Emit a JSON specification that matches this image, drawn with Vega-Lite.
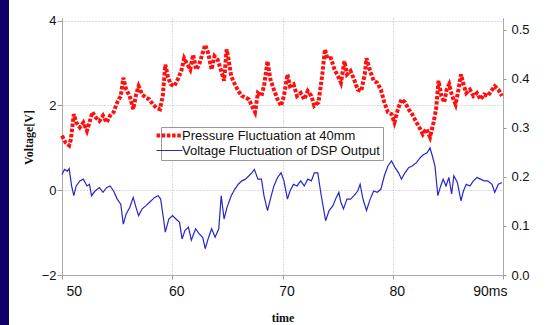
{
  "$schema": "https://vega.github.io/schema/vega-lite/v6.json",
  "width": 441,
  "height": 257,
  "autosize": {"type": "none"},
  "padding": {"left": 62, "top": 18, "right": 50, "bottom": 50},
  "background": "#0e0068",
  "config": {
    "view": {"fill": "white", "stroke": "white", "strokeWidth": 106},
    "axis": {
      "labelFont": "Liberation Sans",
      "labelColor": "#111111",
      "titleFont": "Liberation Serif",
      "titleFontWeight": "bold",
      "titleColor": "#111111",
      "gridColor": "#b8b8b8",
      "gridDash": [1, 2],
      "gridWidth": 1,
      "domainColor": "#aaaaaa",
      "tickColor": "#999999"
    },
    "legend": {
      "orient": "none",
      "legendX": 99,
      "legendY": 109,
      "fillColor": "white",
      "strokeColor": "#999999",
      "padding": 2,
      "labelFont": "Liberation Sans",
      "labelFontSize": 13,
      "labelColor": "#111111",
      "labelLimit": 400,
      "symbolType": "stroke",
      "symbolSize": 676,
      "rowPadding": -13,
      "labelOffset": 6
    }
  },
  "datasets": {
    "pressure": [
      {"t": 50.00, "p": 0.284}, {"t": 50.32, "p": 0.270}, {"t": 50.65, "p": 0.264}, {"t": 50.81, "p": 0.277},
      {"t": 51.07, "p": 0.328}, {"t": 51.29, "p": 0.311}, {"t": 51.62, "p": 0.301}, {"t": 51.94, "p": 0.311},
      {"t": 52.26, "p": 0.294}, {"t": 52.49, "p": 0.311}, {"t": 52.75, "p": 0.332}, {"t": 53.07, "p": 0.321},
      {"t": 53.39, "p": 0.314}, {"t": 53.72, "p": 0.325}, {"t": 54.04, "p": 0.311}, {"t": 54.36, "p": 0.325},
      {"t": 54.68, "p": 0.332}, {"t": 55.01, "p": 0.352}, {"t": 55.33, "p": 0.365}, {"t": 55.56, "p": 0.402},
      {"t": 55.82, "p": 0.378}, {"t": 56.14, "p": 0.365}, {"t": 56.46, "p": 0.338}, {"t": 56.72, "p": 0.368},
      {"t": 56.95, "p": 0.385}, {"t": 57.27, "p": 0.368}, {"t": 57.59, "p": 0.362}, {"t": 57.92, "p": 0.358},
      {"t": 58.24, "p": 0.348}, {"t": 58.56, "p": 0.341}, {"t": 58.89, "p": 0.338}, {"t": 59.14, "p": 0.365},
      {"t": 59.37, "p": 0.429}, {"t": 59.60, "p": 0.405}, {"t": 59.85, "p": 0.389}, {"t": 60.18, "p": 0.385},
      {"t": 60.50, "p": 0.399}, {"t": 60.82, "p": 0.416}, {"t": 61.08, "p": 0.442}, {"t": 61.31, "p": 0.432},
      {"t": 61.63, "p": 0.419}, {"t": 61.89, "p": 0.449}, {"t": 62.18, "p": 0.419}, {"t": 62.44, "p": 0.429},
      {"t": 62.76, "p": 0.453}, {"t": 62.99, "p": 0.469}, {"t": 63.25, "p": 0.453}, {"t": 63.57, "p": 0.419},
      {"t": 63.83, "p": 0.446}, {"t": 64.12, "p": 0.439}, {"t": 64.44, "p": 0.416}, {"t": 64.70, "p": 0.396},
      {"t": 64.93, "p": 0.460}, {"t": 65.09, "p": 0.442}, {"t": 65.35, "p": 0.405}, {"t": 65.67, "p": 0.389},
      {"t": 65.99, "p": 0.375}, {"t": 66.32, "p": 0.365}, {"t": 66.64, "p": 0.362}, {"t": 66.96, "p": 0.358},
      {"t": 67.22, "p": 0.345}, {"t": 67.51, "p": 0.332}, {"t": 67.77, "p": 0.371}, {"t": 68.09, "p": 0.365},
      {"t": 68.32, "p": 0.385}, {"t": 68.64, "p": 0.436}, {"t": 68.90, "p": 0.399}, {"t": 69.22, "p": 0.378},
      {"t": 69.55, "p": 0.358}, {"t": 69.87, "p": 0.345}, {"t": 70.13, "p": 0.365}, {"t": 70.45, "p": 0.409},
      {"t": 70.68, "p": 0.385}, {"t": 71.00, "p": 0.389}, {"t": 71.32, "p": 0.365}, {"t": 71.65, "p": 0.371},
      {"t": 71.97, "p": 0.358}, {"t": 72.29, "p": 0.375}, {"t": 72.62, "p": 0.365}, {"t": 72.88, "p": 0.345},
      {"t": 73.26, "p": 0.352}, {"t": 73.59, "p": 0.405}, {"t": 73.85, "p": 0.460}, {"t": 74.07, "p": 0.442},
      {"t": 74.39, "p": 0.442}, {"t": 74.72, "p": 0.419}, {"t": 75.04, "p": 0.405}, {"t": 75.30, "p": 0.392},
      {"t": 75.62, "p": 0.436}, {"t": 75.85, "p": 0.409}, {"t": 76.17, "p": 0.416}, {"t": 76.49, "p": 0.399},
      {"t": 76.82, "p": 0.378}, {"t": 77.14, "p": 0.375}, {"t": 77.46, "p": 0.409}, {"t": 77.62, "p": 0.442},
      {"t": 77.95, "p": 0.416}, {"t": 78.27, "p": 0.396}, {"t": 78.59, "p": 0.392}, {"t": 78.92, "p": 0.378},
      {"t": 79.24, "p": 0.352}, {"t": 79.56, "p": 0.332}, {"t": 79.89, "p": 0.328}, {"t": 80.15, "p": 0.311},
      {"t": 80.47, "p": 0.338}, {"t": 80.79, "p": 0.358}, {"t": 81.11, "p": 0.352}, {"t": 81.44, "p": 0.338},
      {"t": 81.76, "p": 0.328}, {"t": 82.08, "p": 0.314}, {"t": 82.41, "p": 0.301}, {"t": 82.73, "p": 0.287},
      {"t": 83.05, "p": 0.298}, {"t": 83.38, "p": 0.281}, {"t": 83.70, "p": 0.311}, {"t": 83.93, "p": 0.338},
      {"t": 84.15, "p": 0.396}, {"t": 84.41, "p": 0.365}, {"t": 84.67, "p": 0.352}, {"t": 84.89, "p": 0.378},
      {"t": 85.12, "p": 0.389}, {"t": 85.38, "p": 0.365}, {"t": 85.70, "p": 0.348}, {"t": 85.96, "p": 0.378},
      {"t": 86.19, "p": 0.409}, {"t": 86.41, "p": 0.389}, {"t": 86.67, "p": 0.371}, {"t": 87.00, "p": 0.378},
      {"t": 87.32, "p": 0.365}, {"t": 87.64, "p": 0.371}, {"t": 87.96, "p": 0.358}, {"t": 88.29, "p": 0.368},
      {"t": 88.61, "p": 0.365}, {"t": 88.93, "p": 0.375}, {"t": 89.25, "p": 0.385}, {"t": 89.58, "p": 0.378},
      {"t": 89.90, "p": 0.365}
    ],
    "voltage": [
      {"t": 50.00, "v": 0.37}, {"t": 50.23, "v": 0.49}, {"t": 50.48, "v": 0.45}, {"t": 50.65, "v": 0.51},
      {"t": 50.87, "v": 0.10}, {"t": 51.07, "v": -0.13}, {"t": 51.29, "v": 0.10}, {"t": 51.62, "v": 0.22},
      {"t": 51.94, "v": 0.26}, {"t": 52.26, "v": 0.10}, {"t": 52.49, "v": 0.14}, {"t": 52.68, "v": -0.13},
      {"t": 53.00, "v": -0.02}, {"t": 53.39, "v": 0.06}, {"t": 53.72, "v": -0.05}, {"t": 54.04, "v": 0.06},
      {"t": 54.36, "v": 0.10}, {"t": 54.68, "v": -0.02}, {"t": 55.01, "v": -0.21}, {"t": 55.33, "v": -0.33},
      {"t": 55.56, "v": -0.80}, {"t": 55.82, "v": -0.56}, {"t": 56.14, "v": -0.41}, {"t": 56.46, "v": -0.17},
      {"t": 56.72, "v": -0.41}, {"t": 56.95, "v": -0.60}, {"t": 57.27, "v": -0.44}, {"t": 57.59, "v": -0.37},
      {"t": 57.92, "v": -0.29}, {"t": 58.40, "v": -0.17}, {"t": 58.72, "v": -0.13}, {"t": 58.95, "v": -0.21},
      {"t": 59.21, "v": -0.68}, {"t": 59.37, "v": -0.99}, {"t": 59.69, "v": -0.68}, {"t": 60.02, "v": -0.60},
      {"t": 60.34, "v": -0.68}, {"t": 60.66, "v": -0.76}, {"t": 60.89, "v": -1.15}, {"t": 61.15, "v": -0.95},
      {"t": 61.47, "v": -0.87}, {"t": 61.73, "v": -1.18}, {"t": 62.12, "v": -0.91}, {"t": 62.44, "v": -1.03},
      {"t": 62.76, "v": -1.11}, {"t": 62.99, "v": -1.38}, {"t": 63.25, "v": -1.15}, {"t": 63.57, "v": -0.91},
      {"t": 63.89, "v": -1.11}, {"t": 64.22, "v": -0.91}, {"t": 64.44, "v": -0.13}, {"t": 64.70, "v": -0.68},
      {"t": 64.96, "v": -0.41}, {"t": 65.35, "v": -0.13}, {"t": 65.67, "v": 0.02}, {"t": 65.99, "v": 0.14},
      {"t": 66.32, "v": 0.22}, {"t": 66.64, "v": 0.26}, {"t": 66.96, "v": 0.34}, {"t": 67.22, "v": 0.41},
      {"t": 67.45, "v": 0.49}, {"t": 67.77, "v": 0.26}, {"t": 68.09, "v": 0.26}, {"t": 68.32, "v": -0.13},
      {"t": 68.64, "v": -0.48}, {"t": 68.90, "v": -0.21}, {"t": 69.22, "v": 0.10}, {"t": 69.55, "v": 0.30},
      {"t": 69.87, "v": 0.41}, {"t": 70.13, "v": 0.22}, {"t": 70.45, "v": -0.21}, {"t": 70.68, "v": -0.02},
      {"t": 71.00, "v": 0.14}, {"t": 71.32, "v": 0.10}, {"t": 71.65, "v": 0.22}, {"t": 71.97, "v": 0.10},
      {"t": 72.29, "v": 0.26}, {"t": 72.62, "v": 0.22}, {"t": 72.88, "v": 0.41}, {"t": 73.20, "v": 0.41},
      {"t": 73.49, "v": -0.09}, {"t": 73.91, "v": -0.72}, {"t": 74.23, "v": -0.48}, {"t": 74.56, "v": -0.37},
      {"t": 74.88, "v": -0.17}, {"t": 75.11, "v": -0.05}, {"t": 75.30, "v": -0.29}, {"t": 75.53, "v": -0.44},
      {"t": 75.85, "v": -0.21}, {"t": 76.17, "v": -0.21}, {"t": 76.49, "v": -0.13}, {"t": 76.82, "v": -0.02},
      {"t": 77.04, "v": 0.14}, {"t": 77.30, "v": -0.21}, {"t": 77.62, "v": -0.48}, {"t": 77.95, "v": -0.21},
      {"t": 78.27, "v": -0.02}, {"t": 78.59, "v": -0.05}, {"t": 78.92, "v": 0.02}, {"t": 79.24, "v": 0.34},
      {"t": 79.56, "v": 0.57}, {"t": 79.89, "v": 0.69}, {"t": 80.21, "v": 0.53}, {"t": 80.53, "v": 0.41},
      {"t": 80.79, "v": 0.26}, {"t": 81.11, "v": 0.41}, {"t": 81.44, "v": 0.53}, {"t": 81.76, "v": 0.57},
      {"t": 82.15, "v": 0.65}, {"t": 82.47, "v": 0.76}, {"t": 82.79, "v": 0.84}, {"t": 83.12, "v": 0.88},
      {"t": 83.38, "v": 1.00}, {"t": 83.60, "v": 0.80}, {"t": 83.83, "v": 0.57}, {"t": 84.09, "v": -0.13},
      {"t": 84.35, "v": 0.10}, {"t": 84.57, "v": 0.26}, {"t": 84.83, "v": 0.10}, {"t": 85.09, "v": 0.30},
      {"t": 85.34, "v": -0.09}, {"t": 85.54, "v": 0.34}, {"t": 85.86, "v": 0.18}, {"t": 86.19, "v": -0.25},
      {"t": 86.41, "v": -0.02}, {"t": 86.67, "v": 0.14}, {"t": 87.00, "v": 0.10}, {"t": 87.32, "v": 0.22},
      {"t": 87.64, "v": 0.30}, {"t": 87.96, "v": 0.26}, {"t": 88.29, "v": 0.22}, {"t": 88.61, "v": 0.22},
      {"t": 89.00, "v": 0.14}, {"t": 89.25, "v": -0.05}, {"t": 89.58, "v": 0.14}, {"t": 89.90, "v": 0.18}
    ]
  },
  "layer": [
    {
      "data": {"name": "voltage"},
      "mark": {"type": "line", "strokeWidth": 1.2},
      "encoding": {
        "x": {
          "field": "t", "type": "quantitative",
          "scale": {"domain": [50, 90], "nice": false},
          "axis": {
            "values": [50, 60, 70, 80, 90],
            "labelExpr": "datum.value == 90 ? '90ms' : datum.label",
            "labelFontSize": 14, "labelOffset": 4, "tickSize": 4, "labelPadding": 5,
            "title": "time", "titleFontSize": 12, "titleY": 46, "titleBaseline": "alphabetic"
          }
        },
        "y": {
          "field": "v", "type": "quantitative",
          "scale": {"domain": [-2, 4.06], "nice": false, "zero": false},
          "axis": {
            "orient": "left", "values": [-2, 0, 2, 4],
            "labelFontSize": 13, "tickSize": 5, "labelPadding": 1,
            "title": "Voltage[V]", "titleFontSize": 12, "titleX": -34, "titleY": 119,
            "titleAlign": "center", "titleBaseline": "middle", "titleAngle": -90
          }
        },
        "color": {
          "datum": "Voltage Fluctuation of DSP Output", "type": "nominal",
          "scale": {"domain": ["Pressure Fluctuation at 40mm", "Voltage Fluctuation of DSP Output"], "range": ["#ff1010", "#2626cc"]},
          "legend": {
            "title": null,
            "encode": {"symbols": {"update": {
              "strokeDash": {"signal": "datum.value == 'Pressure Fluctuation at 40mm' ? [3.5, 1.7] : [1, 0]"},
              "strokeWidth": {"signal": "datum.value == 'Pressure Fluctuation at 40mm' ? 4 : 1.2"}
            }}}
          }
        }
      }
    },
    {
      "data": {"name": "pressure"},
      "mark": {"type": "line", "strokeWidth": 4, "strokeDash": [3.5, 1.7], "strokeCap": "butt"},
      "encoding": {
        "x": {"field": "t", "type": "quantitative"},
        "y": {
          "field": "p", "type": "quantitative",
          "scale": {"domain": [0, 0.524], "nice": false},
          "axis": {
            "orient": "right", "values": [0, 0.1, 0.2, 0.3, 0.4, 0.5], "format": ".1f",
            "labelFontSize": 13, "tickSize": 3, "labelPadding": 5, "title": null
          }
        },
        "color": {"datum": "Pressure Fluctuation at 40mm", "type": "nominal"}
      }
    }
  ],
  "resolve": {"scale": {"y": "independent"}}
}
